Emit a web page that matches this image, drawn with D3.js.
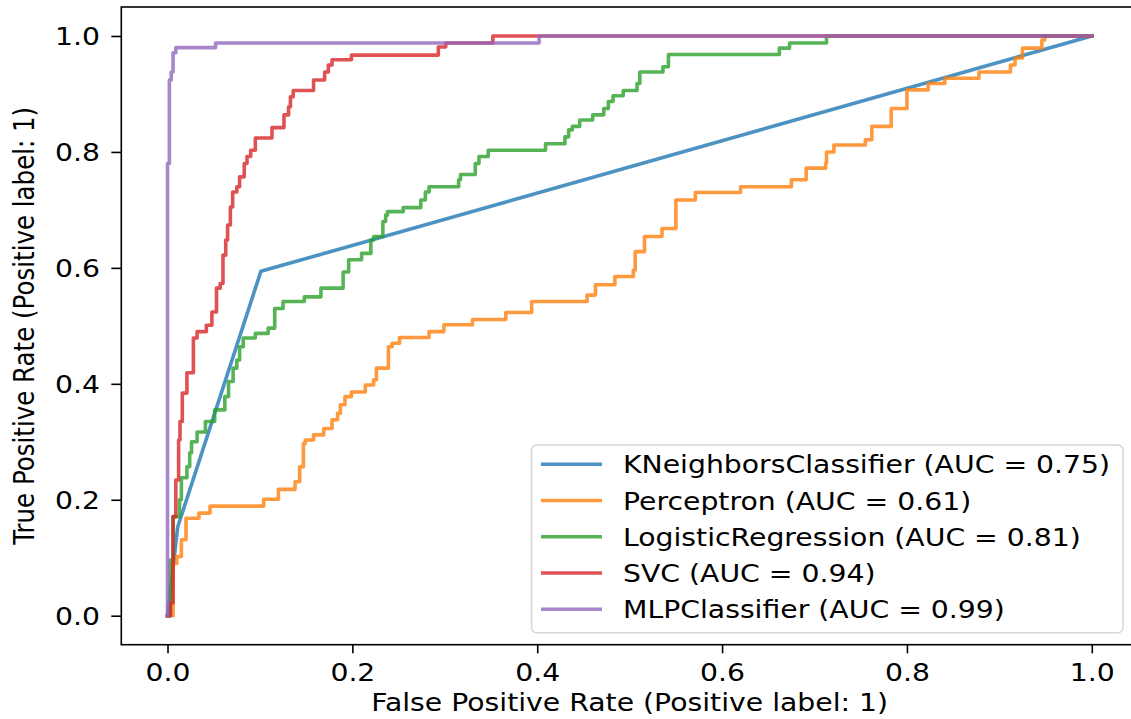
<!DOCTYPE html>
<html>
<head>
<meta charset="utf-8">
<script src="https://cdn.jsdelivr.net/npm/d3@7"></script>
<style>
  html, body { margin: 0; padding: 0; background: #fff; }
  svg { display: block; }
</style>
</head>
<body>
<script>
// ---------- data ----------
const xTicks = [0.0, 0.2, 0.4, 0.6, 0.8, 1.0];
const yTicks = [0.0, 0.2, 0.4, 0.6, 0.8, 1.0];
const modelNames = ["KNeighborsClassifier", "Perceptron", "LogisticRegression", "SVC", "MLPClassifier"];
const aucValues = [0.75, 0.61, 0.81, 0.94, 0.99];
const xLabel = "False Positive Rate (Positive label: 1)";
const yLabel = "True Positive Rate (Positive label: 1)";

// [fpr, tpr] ROC points
const knnRoc = [[0,0],[0.011,0.153],[0.101,0.594],[1,1]];
const perceptronRoc = [[0,0],[0.006,0.090],[0.010,0.102],[0.015,0.131],[0.020,0.168],[0.034,0.177],[0.046,0.189],[0.104,0.201],[0.120,0.218],[0.138,0.231],[0.143,0.257],[0.147,0.297],[0.149,0.303],[0.158,0.312],[0.169,0.323],[0.178,0.338],[0.184,0.349],[0.187,0.364],[0.192,0.378],[0.199,0.386],[0.214,0.398],[0.223,0.407],[0.226,0.427],[0.239,0.464],[0.243,0.470],[0.251,0.480],[0.283,0.490],[0.299,0.502],[0.330,0.511],[0.366,0.523],[0.394,0.542],[0.454,0.553],[0.463,0.571],[0.484,0.585],[0.504,0.596],[0.506,0.628],[0.516,0.654],[0.535,0.668],[0.550,0.717],[0.571,0.730],[0.620,0.740],[0.675,0.752],[0.691,0.772],[0.712,0.780],[0.713,0.800],[0.721,0.812],[0.755,0.821],[0.762,0.844],[0.783,0.875],[0.800,0.907],[0.823,0.918],[0.841,0.927],[0.878,0.938],[0.912,0.950],[0.917,0.962],[0.925,0.979],[0.946,0.993],[0.949,1.0],[1,1]];
const logRegRoc = [[0,0],[0.003,0.096],[0.006,0.171],[0.013,0.200],[0.015,0.238],[0.021,0.257],[0.024,0.281],[0.026,0.300],[0.032,0.317],[0.041,0.335],[0.051,0.355],[0.062,0.378],[0.066,0.404],[0.071,0.427],[0.075,0.441],[0.078,0.464],[0.082,0.479],[0.095,0.487],[0.109,0.496],[0.116,0.530],[0.125,0.542],[0.148,0.550],[0.166,0.565],[0.190,0.593],[0.196,0.614],[0.210,0.625],[0.220,0.648],[0.223,0.654],[0.233,0.680],[0.236,0.691],[0.238,0.697],[0.255,0.704],[0.274,0.717],[0.279,0.731],[0.283,0.740],[0.315,0.752],[0.317,0.761],[0.333,0.780],[0.337,0.792],[0.347,0.803],[0.409,0.814],[0.430,0.826],[0.434,0.838],[0.438,0.844],[0.446,0.855],[0.460,0.864],[0.472,0.875],[0.477,0.887],[0.482,0.897],[0.493,0.906],[0.508,0.918],[0.511,0.938],[0.536,0.947],[0.542,0.968],[0.662,0.979],[0.673,0.988],[0.713,1.0],[1,1]];
const svcRoc = [[0,0],[0.003,0.022],[0.006,0.171],[0.009,0.234],[0.012,0.303],[0.0135,0.335],[0.016,0.384],[0.021,0.419],[0.028,0.479],[0.032,0.490],[0.042,0.501],[0.048,0.524],[0.053,0.565],[0.057,0.573],[0.060,0.622],[0.063,0.648],[0.065,0.674],[0.068,0.705],[0.0705,0.731],[0.075,0.740],[0.078,0.757],[0.083,0.780],[0.086,0.792],[0.090,0.803],[0.095,0.824],[0.113,0.842],[0.126,0.864],[0.131,0.878],[0.133,0.895],[0.136,0.906],[0.158,0.924],[0.170,0.938],[0.174,0.950],[0.178,0.959],[0.199,0.967],[0.293,0.981],[0.301,0.988],[0.352,1.0],[1,1]];
const mlpRoc = [[0,0],[0,0.780],[0.002,0.924],[0.004,0.938],[0.006,0.971],[0.009,0.980],[0.052,0.988],[0.402,1.0],[1,1]];

const rocCurves = [knnRoc, perceptronRoc, logRegRoc, svcRoc, mlpRoc];
const stepped = [false, true, true, true, true];
const colors = ["#1f77b4", "#ff7f0e", "#2ca02c", "#d62728", "#9467bd"];

// ---------- layout ----------
const W = 1131, H = 719;
const FS = 24.5;       // vertical font size
const SX = 1.155;      // horizontal stretch of the raster
const FONT = "DejaVu Sans";
const axL = 121.3, axR = 1138, axT = 7, axB = 644.7;

const svg = d3.select("body").append("svg")
  .attr("width", W).attr("height", H)
  .attr("viewBox", `0 0 ${W} ${H}`);
svg.append("rect").attr("width", W).attr("height", H).attr("fill", "#fff");

const x = d3.scaleLinear().domain([-0.05, 1.05]).range([axL, axR]);
const y = d3.scaleLinear().domain([-0.05, 1.05]).range([axB, axT]);

// ---------- curves ----------
const plot = svg.append("g");
rocCurves.forEach((pts, i) => {
  const line = d3.line()
    .x(d => x(d[0])).y(d => y(d[1]))
    .curve(stepped[i] ? d3.curveStepAfter : d3.curveLinear);
  plot.append("path")
    .datum(pts)
    .attr("d", line)
    .attr("fill", "none")
    .attr("stroke", colors[i])
    .attr("stroke-opacity", 0.8)
    .attr("stroke-width", 3.6)
    .attr("stroke-linejoin", "round")
    .attr("stroke-linecap", "square");
});

// ---------- axes ----------
const fmt = d3.format(".1f");
const gx = svg.append("g")
  .attr("transform", `translate(0,${axB})`)
  .call(d3.axisBottom(x).tickValues(xTicks).tickFormat(fmt).tickSize(8.6).tickSizeOuter(0));
gx.select(".domain").remove();
gx.selectAll(".tick line").attr("stroke", "#000").attr("stroke-width", 1.6);
gx.selectAll(".tick text")
  .attr("y", 0).attr("dy", null)
  .attr("transform", `translate(0,${681 - axB}) scale(${SX},1)`)
  .attr("fill", "#000")
  .attr("font-family", FONT).attr("font-size", FS);

const gy = svg.append("g")
  .attr("transform", `translate(${axL},0)`)
  .call(d3.axisLeft(y).tickValues(yTicks).tickFormat(fmt).tickSize(10).tickSizeOuter(0));
gy.select(".domain").remove();
gy.selectAll(".tick line").attr("stroke", "#000").attr("stroke-width", 1.6);
gy.selectAll(".tick text")
  .attr("x", 0).attr("dy", null).attr("y", 0)
  .attr("text-anchor", "end")
  .attr("transform", `translate(-21.3,9) scale(${SX},1)`)
  .attr("fill", "#000")
  .attr("font-family", FONT).attr("font-size", FS);

// spines
svg.append("rect")
  .attr("x", axL).attr("y", axT)
  .attr("width", axR - axL).attr("height", axB - axT)
  .attr("fill", "none").attr("stroke", "#000").attr("stroke-width", 1.6);

// axis labels
svg.append("text")
  .attr("transform", `translate(${(axL + axR) / 2},711) scale(${SX},1)`)
  .attr("text-anchor", "middle")
  .attr("font-family", FONT).attr("font-size", FS).attr("fill", "#000")
  .text(xLabel);
svg.append("text")
  .attr("transform", `translate(34,${(axT + axB) / 2}) scale(${SX},1) rotate(-90)`)
  .attr("text-anchor", "middle")
  .attr("font-family", FONT).attr("font-size", FS).attr("fill", "#000")
  .text(yLabel);

// ---------- legend ----------
const lgX = 531.6, lgY = 445, lgW = 1123 - 531.6, lgH = 187.7;
const lg = svg.append("g");
lg.append("rect")
  .attr("x", lgX).attr("y", lgY).attr("width", lgW).attr("height", lgH)
  .attr("rx", 5).attr("ry", 5)
  .attr("fill", "#fff").attr("fill-opacity", 0.8)
  .attr("stroke", "#cccccc").attr("stroke-opacity", 0.8).attr("stroke-width", 1.5);
modelNames.forEach((name, i) => {
  const cy = 464.3 + i * 36.25;
  lg.append("line")
    .attr("x1", 541).attr("x2", 602).attr("y1", cy).attr("y2", cy)
    .attr("stroke", colors[i]).attr("stroke-opacity", 0.8).attr("stroke-width", 3.6)
    .attr("stroke-linecap", "butt");
  lg.append("text")
    .attr("transform", `translate(623,${cy + 9}) scale(${SX},1)`)
    .attr("font-family", FONT).attr("font-size", FS).attr("fill", "#000")
    .text(`${name} (AUC = ${aucValues[i].toFixed(2)})`);
});
</script>
</body>
</html>
